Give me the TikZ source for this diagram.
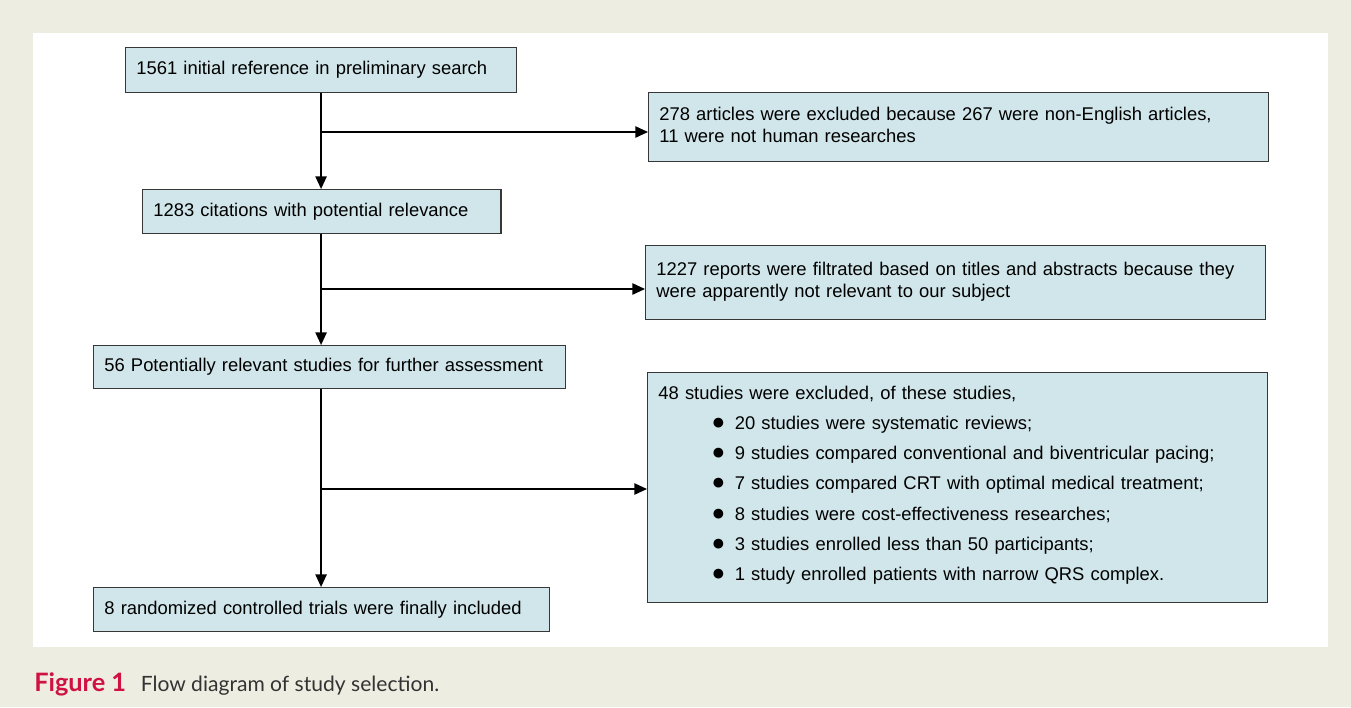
\documentclass[tikz,border=0pt]{standalone}
\usepackage{fontspec}
\setmainfont{Liberation Sans}
\newfontfamily\capfont{Lato}
\usetikzlibrary{arrows.meta,positioning}
\definecolor{bgcream}{RGB}{238,237,226}
\definecolor{boxfill}{RGB}{208,230,234}
\definecolor{boxline}{RGB}{55,55,55}
\definecolor{figred}{RGB}{208,18,66}
\tikzset{
  box/.style={draw=boxline, line width=1.1pt, fill=boxfill, anchor=north west,
    align=left, inner xsep=8pt, font=\fontsize{13.8}{16.6}\selectfont},
  arr/.style={line width=1.1pt, -{Triangle[length=9.5pt,width=8.5pt]}}
}
\newcommand{\bul}{\hspace*{40pt}{\fontsize{17}{0}\selectfont ●}\hspace{7pt}}
\begin{document}
\begin{tikzpicture}[x=0.75pt,y=-0.75pt]
\useasboundingbox (0,0) rectangle (1351,707);
\fill[bgcream] (0,0) rectangle (1351,707);
\fill[white] (33,33) rectangle (1328,647);
% left column
\node[box, text width=277pt, minimum height=33.75pt] (init) at (125,47) {1561 initial reference in preliminary search};
\node[box, text width=252.6pt, minimum height=33pt] (cit) at (142,189) {1283 citations with potential relevance};
\node[box, text width=338pt, minimum height=32.25pt] (pot) at (93,345) {56 Potentially relevant studies for further assessment};
\node[box, text width=326pt, minimum height=33pt] (final) at (93,587) {8 randomized controlled trials were finally included};
% right column
\node[box, text width=449pt, minimum height=51.75pt] (excl1) at (648,92) {278 articles were excluded because 267 were non-English articles,\\11 were not human researches\vspace{4pt}};
\node[box, text width=449pt, minimum height=55.5pt] (excl2) at (645,245) {1227 reports were filtrated based on titles and abstracts because they\\were apparently not relevant to our subject\vspace{2pt}};
\node[box, text width=449pt, minimum height=172.5pt, font=\fontsize{13.8}{22.7}\selectfont] (excl3) at (647,372) {48 studies were excluded, of these studies,\\
\bul 20 studies were systematic reviews;\\
\bul 9 studies compared conventional and biventricular pacing;\\
\bul 7 studies compared CRT with optimal medical treatment;\\
\bul 8 studies were cost-effectiveness researches;\\
\bul 3 studies enrolled less than 50 participants;\\
\bul 1 study enrolled patients with narrow QRS complex.\vspace{4pt}};
% connectors
\draw[arr] (init.south) -- (init.south |- cit.north);
\draw[arr] (init.south |- cit.south) -- (init.south |- pot.north);
\draw[arr] (init.south |- pot.south) -- (init.south |- final.north);
\coordinate (b1) at (321,132);
\coordinate (b2) at (321,289);
\coordinate (b3) at (321,489);
\draw[arr] (b1) -- (b1 -| excl1.west);
\draw[arr] (b2) -- (b2 -| excl2.west);
\draw[arr] (b3) -- (b3 -| excl3.west);
% caption
\node[anchor=base west, inner sep=0pt, font=\capfont\fontsize{15.8}{18}\selectfont] (cap) at (34,691) {\textcolor{figred}{\fontsize{19}{20}\selectfont\bfseries Figure 1}\hspace{11pt}{\color{black!80}Flow diagram of study selection.}};
\end{tikzpicture}
\end{document}
